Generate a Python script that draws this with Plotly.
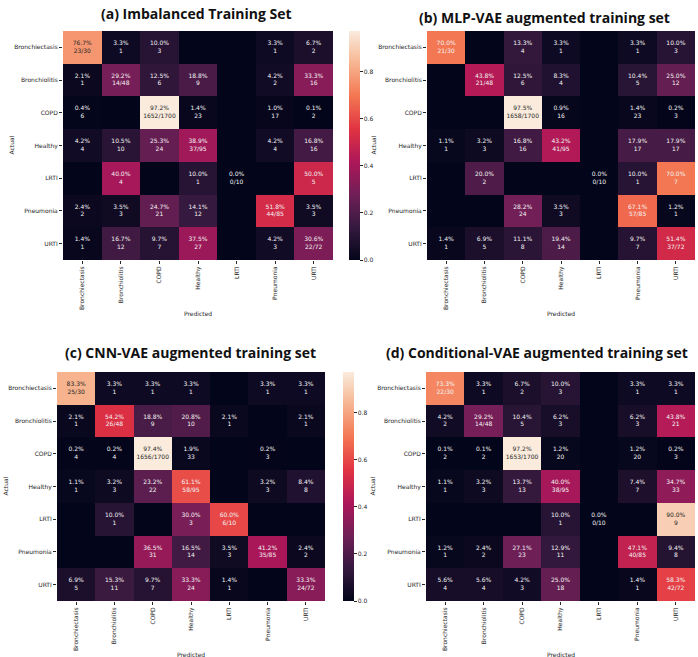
import plotly.graph_objects as go

classes = ["Bronchiectasis", "Bronchiolitis", "COPD", "Healthy", "LRTI", "Pneumonia", "URTI"]
row_totals = [30, 48, 1700, 95, 10, 85, 72]

counts_a = [
    [23, 1, 3, 0, 0, 1, 2],
    [1, 14, 6, 9, 0, 2, 16],
    [6, 0, 1652, 23, 0, 17, 2],
    [4, 10, 24, 37, 0, 4, 16],
    [0, 4, 0, 1, 0, 0, 5],
    [2, 3, 21, 12, 0, 44, 3],
    [1, 12, 7, 27, 0, 3, 22],
]
counts_b = [
    [21, 0, 4, 1, 0, 1, 3],
    [0, 21, 6, 4, 0, 5, 12],
    [0, 0, 1658, 16, 0, 23, 3],
    [1, 3, 16, 41, 0, 17, 17],
    [0, 2, 0, 0, 0, 1, 7],
    [0, 0, 24, 3, 0, 57, 1],
    [1, 5, 8, 14, 0, 7, 37],
]
counts_c = [
    [25, 1, 1, 1, 0, 1, 1],
    [1, 26, 9, 10, 1, 0, 1],
    [4, 4, 1656, 33, 0, 3, 0],
    [1, 3, 22, 58, 0, 3, 8],
    [0, 1, 0, 3, 6, 0, 0],
    [0, 0, 31, 14, 3, 35, 2],
    [5, 11, 7, 24, 1, 0, 24],
]
counts_d = [
    [22, 1, 2, 3, 0, 1, 1],
    [2, 14, 5, 3, 0, 3, 21],
    [2, 2, 1653, 20, 0, 20, 3],
    [1, 3, 13, 38, 0, 7, 33],
    [0, 0, 0, 1, 0, 0, 9],
    [1, 2, 23, 11, 0, 40, 8],
    [4, 4, 3, 18, 0, 1, 42],
]

titles = ["(a) Imbalanced Training Set", "(b) MLP-VAE augmented training set",
          "(c) CNN-VAE augmented training set", "(d) Conditional-VAE augmented training set"]
cbar_ticks = [0.0, 0.2, 0.4, 0.6, 0.8]

W, H = 698, 657

rocket = [
    [0.0, "#03051a"], [1 / 7, "#35193e"], [2 / 7, "#701f57"], [3 / 7, "#ad1759"],
    [4 / 7, "#e13342"], [5 / 7, "#f37651"], [6 / 7, "#f6b48f"], [1.0, "#faebdd"],
]


def hex2rgb(h):
    h = h.lstrip("#")
    return [int(h[i:i + 2], 16) / 255 for i in (0, 2, 4)]


def cmap(t):
    t = min(max(t, 0), 1)
    for (p0, c0), (p1, c1) in zip(rocket[:-1], rocket[1:]):
        if t <= p1:
            f = (t - p0) / (p1 - p0) if p1 > p0 else 0
            a, b = hex2rgb(c0), hex2rgb(c1)
            return [a[i] + (b[i] - a[i]) * f for i in range(3)]
    return hex2rgb(rocket[-1][1])


def lum(rgb):
    lin = [c / 12.92 if c <= 0.03928 else ((c + 0.055) / 1.055) ** 2.4 for c in rgb]
    return 0.2126 * lin[0] + 0.7152 * lin[1] + 0.0722 * lin[2]


def px_x(p):
    return p / W


def px_y(p):
    return 1 - p / H


# panel geometry (pixels): left, right, top, bottom
panels = [
    (63, 333, 31, 260),
    (427, 695, 31, 260),
    (57, 325, 372, 601),
    (426, 695, 372, 601),
]
title_pos = [(196, 13), (544, 17), (190, 352), (537, 352)]
actual_x = [11, 373, 5, 372]
pred_y = [313, 313, 654, 654]
cbar = {0: (349, 31), 2: (343, 372)}

fig = go.Figure()
all_counts = [counts_a, counts_b, counts_c, counts_d]
annotations = []
layout_axes = {}

for k, counts in enumerate(all_counts):
    frac = [[counts[i][j] / row_totals[i] for j in range(7)] for i in range(7)]
    zmax = max(max(r) for r in frac)
    xs, ys, txt, cols = [], [], [], []
    for i in range(7):
        for j in range(7):
            c = counts[i][j]
            if c == 0 and i != j:
                continue
            pct = "%.1f%%" % (100 * frac[i][j])
            second = "%d/%d" % (c, row_totals[i]) if i == j else "%d" % c
            xs.append(classes[j])
            ys.append(classes[i])
            txt.append(pct + "<br>" + second)
            cols.append("#262626" if lum(cmap(frac[i][j] / zmax)) > 0.408 else "#f4f4f4")
    ax = "" if k == 0 else str(k + 1)
    L, R, T, B = panels[k]
    hm = dict(
        z=frac, x=classes, y=classes, zmin=0, zmax=zmax, colorscale=rocket,
        xaxis="x" + ax, yaxis="y" + ax, hoverinfo="skip", showscale=k in cbar,
    )
    if k in cbar:
        cx, cy = cbar[k]
        hm["colorbar"] = dict(
            x=px_x(cx), xanchor="left", xpad=0, ypad=0, y=px_y(cy), yanchor="top",
            thickness=11, len=B - T, lenmode="pixels", outlinewidth=0,
            tickvals=cbar_ticks, ticktext=["%.1f" % v for v in cbar_ticks],
            ticks="outside", ticklen=3, tickcolor="#262626",
            tickfont=dict(family="DejaVu Sans", size=6, color="#262626"),
        )
    fig.add_trace(go.Heatmap(**hm))
    fig.add_trace(go.Scatter(
        x=xs, y=ys, text=txt, mode="text", xaxis="x" + ax, yaxis="y" + ax,
        textfont=dict(family="DejaVu Sans", size=6, color=cols),
        hoverinfo="skip", showlegend=False,
    ))
    common = dict(showgrid=False, zeroline=False, showline=False, ticks="outside",
                  ticklen=3, tickcolor="#262626",
                  tickfont=dict(family="DejaVu Sans", size=6, color="#262626"))
    layout_axes["xaxis" + ax] = dict(
        domain=[px_x(L), px_x(R)], anchor="y" + ax, type="category",
        categoryorder="array", categoryarray=classes, tickangle=-90, **common)
    layout_axes["yaxis" + ax] = dict(
        domain=[px_y(B), px_y(T)], anchor="x" + ax, type="category",
        categoryorder="array", categoryarray=classes, autorange="reversed", **common)
    tx, ty = title_pos[k]
    annotations.append(dict(
        text="<b>" + titles[k] + "</b>", x=px_x(tx), y=px_y(ty), xref="paper", yref="paper",
        showarrow=False, xanchor="center", yanchor="middle",
        font=dict(family="Open Sans", size=14, color="#111111")))
    annotations.append(dict(
        text="Actual", x=px_x(actual_x[k]), y=px_y((T + B) / 2), xref="paper", yref="paper",
        showarrow=False, textangle=-90, xanchor="center", yanchor="middle",
        font=dict(family="DejaVu Sans", size=6, color="#262626")))
    annotations.append(dict(
        text="Predicted", x=px_x((L + R) / 2), y=px_y(pred_y[k]), xref="paper", yref="paper",
        showarrow=False, xanchor="center", yanchor="middle",
        font=dict(family="DejaVu Sans", size=6, color="#262626")))

fig.update_layout(
    width=W, height=H, margin=dict(l=0, r=0, t=0, b=0),
    paper_bgcolor="white", plot_bgcolor="white", showlegend=False,
    annotations=annotations, **layout_axes,
)

fig.write_html(
    "out.html",
    config={"displayModeBar": False},
    post_script="document.body.style.margin='0';document.body.style.overflow='hidden';",
)
